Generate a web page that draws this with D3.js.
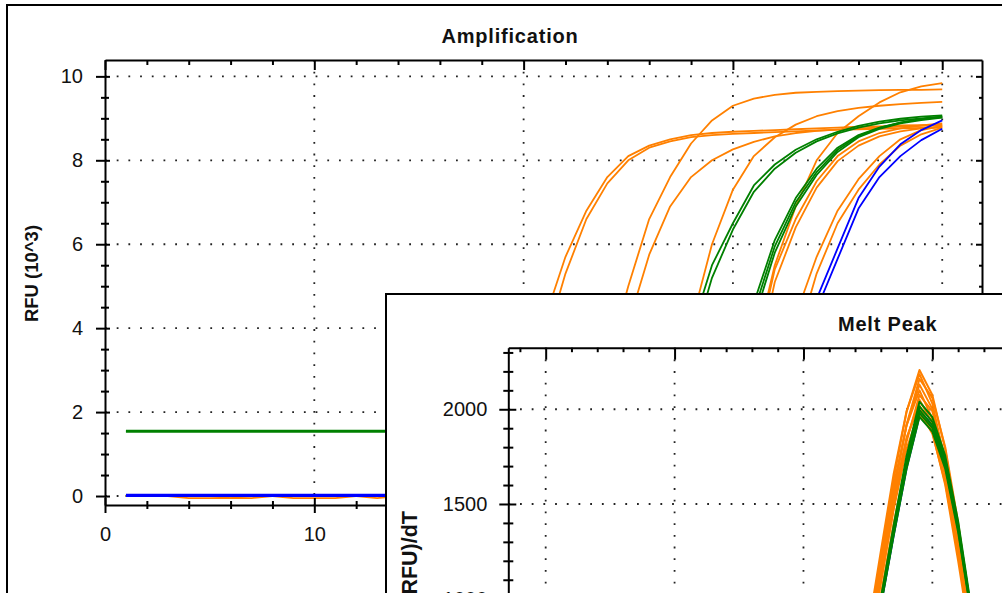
<!DOCTYPE html>
<html>
<head>
<meta charset="utf-8">
<script src="https://cdn.jsdelivr.net/npm/d3@7"></script>
<style>
  html, body { margin: 0; padding: 0; background: #fff; }
  svg { display: block; font-family: "Liberation Sans", Arial, sans-serif; }
</style>
</head>
<body>
<svg id="chart" width="1002" height="593"></svg>
<script>
// ---------- Amplification data (RFU x 10^3 per cycle) ----------
const cycles = [1,2,3,4,5,6,7,8,9,10,11,12,13,14,15,16,17,18,19,20,21,22,23,24,25,26,27,28,29,30,31,32,33,34,35,36,37,38,39,40];
const ampXTicks = [0, 10, 20, 30, 40];
const ampYTicks = [0, 2, 4, 6, 8, 10];

const ampOrangeA1 = [0,0,0,-0.05,-0.05,-0.05,0,0,-0.05,-0.05, -0.05,0,0,0,0,0,0.1,0.3,0.9,2.2, 4.2,5.7,6.8,7.6,8.1,8.35,8.5,8.6,8.65,8.68, 8.7,8.72,8.74,8.76,8.78,8.8,8.81,8.83,8.84,8.85];
const ampOrangeA2 = [0,0,0,0,0,-0.05,-0.05,0,0,0, 0,0,-0.05,0,0,0,0.05,0.2,0.7,1.8, 3.6,5.3,6.6,7.45,8.0,8.3,8.45,8.55,8.6,8.63, 8.65,8.67,8.69,8.71,8.73,8.74,8.75,8.76,8.77,8.78];
const ampOrangeB  = [0,0,0,0,0,0,0,0,0,0, 0,0,0,0,0,0,0,0,0,0.05, 0.2,0.6,1.5,3.2,5.0,6.6,7.6,8.4,8.95,9.3, 9.47,9.56,9.61,9.63,9.65,9.66,9.67,9.68,9.68,9.69];
const ampOrangeC  = [0,0,0,0,0,0,0,0,0,0, 0,0,0,0,0,0,0,0,0,0.03, 0.1,0.4,1.1,2.4,4.1,5.75,6.9,7.6,8.0,8.26, 8.44,8.57,8.65,8.7,8.73,8.76,8.78,8.8,8.82,8.83];
const ampOrangeD  = [0,0,0,0,0,0,0,0,0,0, 0,0,0,0,0,0,0,0,0,0, 0,0,0,0.05,0.1,0.4,1.4,4.1,6.0,7.3, 8.1,8.55,8.85,9.05,9.17,9.25,9.3,9.34,9.37,9.39];
const ampOrangeE1 = [0,0,0,0,0,0,0,0,0,0, 0,0,0,0,0,0,0,0,0,0, 0,0,0,0,0,0,0.05,0.1,0.3,1.0, 3.2,5.4,6.6,7.5,8.1,8.45,8.65,8.76,8.83,8.88];
const ampOrangeE2 = [0,0,0,0,0,0,0,0,0,0, 0,0,0,0,0,0,0,0,0,0, 0,0,0,0,0,0,0.03,0.08,0.25,0.85, 2.8,5.1,6.4,7.35,7.98,8.35,8.57,8.69,8.76,8.8];
const ampOrangeE3 = [0,0,0,0,0,0,0,0,0,0, 0,0,0,0,0,0,0,0,0,0, 0,0,0,0,0,0,0.05,0.15,0.4,1.3, 3.4,5.5,6.9,8.0,8.65,9.05,9.38,9.62,9.76,9.84];
const ampOrangeF  = [0,0,0,0,0,0,0,0,0,0, 0,0,0,0,0,0,0,0,0,0, 0,0,0,0,0,0,0,0,0.1,0.3, 0.9,2.2,4.3,5.7,6.8,7.55,8.1,8.5,8.72,8.82];
const ampOrangeG  = [0,0,0,0,0,0,0,0,0,0, 0,0,0,0,0,0,0,0,0,0, 0,0,0,0,0,0,0,0,0.06,0.2, 0.6,1.6,3.6,5.3,6.5,7.3,7.9,8.35,8.62,8.78];

const ampGreen1   = [0,0,0,0,0,0,0,0,0,0, 0,0,0,0,0,0,0,0,0,0, 0,0,0.05,0.1,0.3,0.8,1.9,3.9,5.5,6.5, 7.4,7.9,8.25,8.5,8.68,8.82,8.92,8.99,9.04,9.07];
const ampGreen2   = [0,0,0,0,0,0,0,0,0,0, 0,0,0,0,0,0,0,0,0,0, 0,0,0.03,0.1,0.25,0.7,1.7,3.5,5.2,6.35, 7.25,7.8,8.18,8.45,8.64,8.78,8.88,8.95,9.0,9.04];
const ampGreen3   = [0,0,0,0,0,0,0,0,0,0, 0,0,0,0,0,0,0,0,0,0, 0,0,0,0,0,0.05,0.1,0.4,1.0,2.6, 4.6,6.1,7.1,7.8,8.3,8.6,8.78,8.9,8.98,9.03];
const ampGreen4   = [0,0,0,0,0,0,0,0,0,0, 0,0,0,0,0,0,0,0,0,0, 0,0,0,0,0,0.04,0.1,0.35,0.9,2.4, 4.4,5.95,7.0,7.72,8.25,8.58,8.77,8.9,8.98,9.04];
const ampGreen5   = [0,0,0,0,0,0,0,0,0,0, 0,0,0,0,0,0,0,0,0,0, 0,0,0,0,0,0.03,0.08,0.3,0.8,2.2, 4.2,5.8,6.9,7.65,8.2,8.55,8.75,8.88,8.96,9.02];
const ampGreenFlat1 = [1.56,1.56,1.56,1.56,1.56,1.56,1.56,1.56,1.56,1.56, 1.56,1.56,1.56,1.56,1.56,1.56,1.56,1.56,1.56,1.56, 1.56,1.56,1.56,1.56,1.56,1.56,1.56,1.56,1.56,1.56, 1.56,1.56,1.56,1.56,1.56,1.56,1.56,1.56,1.56,1.56];
const ampGreenFlat2 = [1.53,1.53,1.53,1.53,1.53,1.53,1.53,1.53,1.53,1.53, 1.53,1.53,1.53,1.53,1.53,1.53,1.53,1.53,1.53,1.53, 1.53,1.53,1.53,1.53,1.53,1.53,1.53,1.53,1.53,1.53, 1.53,1.53,1.53,1.53,1.53,1.53,1.53,1.53,1.53,1.53];

const ampBlue1    = [0.03,0.03,0.03,0.03,0.03,0.03,0.03,0.03,0.03,0.03, 0.03,0.03,0.03,0.03,0.03,0.03,0.03,0.03,0.03,0.03, 0.03,0.03,0.03,0.03,0.03,0.03,0.03,0.08,0.2,0.45, 1.0,2.0,3.4,4.7,5.9,7.1,7.85,8.38,8.72,8.95];
const ampBlue2    = [0,0,0,0,0,0,0,0,0,0, 0,0,0,0,0,0,0,0,0,0, 0,0,0,0,0,0,0,0.06,0.15,0.4, 0.9,1.8,3.1,4.45,5.65,6.85,7.6,8.1,8.48,8.75];

// ---------- Melt peak data (-d(RFU)/dT per temperature step) ----------
const meltTemps = [75.0,75.5,76.0,76.5,77.0,77.5,78.0,78.5,79.0,79.5,80.0,80.5,81.0,81.5,82.0,82.5,83.0,83.5,84.0];
const meltXGrid = [65, 70, 75, 80];
const meltYTicks = [1000, 1500, 2000];

const meltOrange1  = [44,66,110,221,441,795,1214,1633,1986,2207,2075,1788,1368,883,463,221,110,66,44];
const meltOrange2  = [44,66,115,235,470,830,1250,1660,1990,2185,2030,1720,1300,830,430,205,100,60,40];
const meltOrange3  = [40,60,100,200,400,740,1140,1560,1920,2160,2060,1800,1400,930,500,235,115,65,43];
const meltOrange4  = [42,64,106,213,425,767,1171,1576,1916,2130,2002,1725,1320,852,447,213,106,64,42];
const meltOrange5  = [43,65,112,226,452,800,1200,1600,1915,2100,1950,1650,1240,790,410,195,98,59,39];
const meltOrange6  = [38,57,95,190,380,700,1080,1480,1830,2075,1990,1740,1350,900,480,225,110,62,41];
const meltOrange7  = [41,62,103,205,410,738,1128,1517,1845,2050,1927,1661,1271,820,431,205,103,62,41];
const meltOrange8  = [41,62,107,216,432,760,1150,1540,1850,2020,1880,1600,1200,770,400,190,95,57,38];
const meltOrange9  = [40,60,100,199,398,716,1095,1473,1791,1990,1871,1612,1234,796,418,199,100,60,40];
const meltOrange10 = [36,54,90,180,360,660,1020,1400,1730,1965,1890,1650,1280,850,450,210,100,58,38];

const meltGreen1 = [41,61,92,173,347,632,1000,1387,1754,2040,1958,1754,1408,959,530,245,122,71,41];
const meltGreen2 = [40,60,91,171,343,625,987,1370,1733,2015,1934,1733,1390,947,524,242,121,71,40];
const meltGreen3 = [40,60,90,170,339,618,978,1357,1716,1995,1915,1716,1377,938,519,239,120,70,40];
const meltGreen4 = [40,59,89,168,337,614,970,1346,1703,1980,1901,1703,1366,931,515,238,119,69,40];
const meltGreen5 = [39,59,88,167,333,608,960,1333,1686,1960,1882,1686,1352,921,510,235,118,69,39];

const meltBlue1 = [40,60,90,170,339,619,978,1357,1717,1996,1916,1717,1377,938,519,240,120,70,40];
const meltBlue2 = [39,59,88,167,334,609,963,1336,1690,1965,1886,1690,1356,924,511,236,118,69,39];

// ---------- series groups ----------
const ORANGE = "#ff8000", GREEN = "#008000", BLUE = "#0000ff";
const ampSeries = [
  ...[ampOrangeA1, ampOrangeA2, ampOrangeB, ampOrangeC, ampOrangeD, ampOrangeE1, ampOrangeE2, ampOrangeE3, ampOrangeF, ampOrangeG].map(v => ({ v, c: ORANGE })),
  ...[ampGreenFlat1, ampGreenFlat2, ampGreen1, ampGreen2, ampGreen3, ampGreen4, ampGreen5].map(v => ({ v, c: GREEN })),
  ...[ampBlue1, ampBlue2].map(v => ({ v, c: BLUE }))
];
const meltSeries = [
  ...[meltBlue1, meltBlue2].map(v => ({ v, c: BLUE })),
  ...[meltOrange1, meltOrange2, meltOrange3, meltOrange4, meltOrange5, meltOrange6, meltOrange7, meltOrange8, meltOrange9, meltOrange10].map(v => ({ v, c: ORANGE })),
  ...[meltGreen1, meltGreen2, meltGreen3, meltGreen4, meltGreen5].map(v => ({ v, c: GREEN }))
];

const svg = d3.select("#chart");
const FONT = '"Liberation Sans", Arial, sans-serif';
const TXT = "#111";

// outer window frame
svg.append("rect")
  .attr("x", 7).attr("y", 5).attr("width", 1010).attr("height", 620)
  .attr("fill", "#fff").attr("stroke", "#000").attr("stroke-width", 2);

// axis helper: ticks in one direction; labels optional
function axisLayer(parent, gen, scale, values, size, labelPad, fmt) {
  const ax = gen(scale).tickValues(values).tickSize(size).tickSizeOuter(0);
  if (labelPad != null) ax.tickFormat(fmt).tickPadding(labelPad); else ax.tickFormat("");
  const g = parent.append("g").call(ax);
  g.attr("font-family", FONT).attr("font-size", 20);
  g.selectAll(".tick line").attr("stroke", "#000").attr("stroke-width", 2);
  g.selectAll(".tick text").attr("fill", TXT);
  return g;
}
function minorValues(lo, hi, step, majors) {
  const out = [];
  for (let k = Math.round(lo / step); k * step <= hi + 1e-9; k++) {
    const v = +(k * step).toFixed(6);
    if (!majors.some(m => Math.abs(m - v) < 1e-9)) out.push(v);
  }
  return out;
}

// =================== Amplification panel ===================
const ampX = d3.scaleLinear().domain([0, 41.9]).range([105, 982]);
const ampY = d3.scaleLinear().domain([-0.214, 10.39]).range([505, 60]);
const amp = svg.append("g");

amp.append("clipPath").attr("id", "ampClip")
  .append("rect").attr("x", 105).attr("y", 60).attr("width", 877).attr("height", 445);

// dotted grid
const ampGrid = amp.append("g").attr("stroke", "#222").attr("stroke-width", 1.8).attr("stroke-dasharray", "1.8 9.9");
ampGrid.selectAll("line.v").data(ampXTicks.filter(d => d > 0)).join("line")
  .attr("x1", d => ampX(d)).attr("x2", d => ampX(d)).attr("y1", 60).attr("y2", 505);
ampGrid.selectAll("line.h").data(ampYTicks).join("line")
  .attr("y1", d => ampY(d)).attr("y2", d => ampY(d)).attr("x1", 105).attr("x2", 982);

// amplification curves
const ampLine = d3.line().x((d, i) => ampX(cycles[i])).y(d => ampY(d));
amp.append("g").attr("clip-path", "url(#ampClip)")
  .selectAll("path").data(ampSeries).join("path")
  .attr("d", d => ampLine(d.v)).attr("fill", "none")
  .attr("stroke", d => d.c).attr("stroke-width", 1.8).attr("stroke-linejoin", "round");

// axes
const ampYMinor = minorValues(0, 10, 0.5, ampYTicks);
const ampXMinor = minorValues(0, 40, 2, ampXTicks);
const ampLeftAxis = axisLayer(amp.append("g").attr("transform", "translate(105,0)"), d3.axisLeft, ampY, ampYTicks, 9, 13, d3.format("d"));
ampLeftAxis.select(".domain").attr("stroke", "#000").attr("stroke-width", 2);
axisLayer(amp.append("g").attr("transform", "translate(105,0)"), d3.axisLeft, ampY, ampYTicks, -5).select(".domain").remove();
axisLayer(amp.append("g").attr("transform", "translate(105,0)"), d3.axisLeft, ampY, ampYMinor, 4).select(".domain").remove();
axisLayer(amp.append("g").attr("transform", "translate(105,0)"), d3.axisLeft, ampY, ampYMinor, -4).select(".domain").remove();

const ampBottomAxis = axisLayer(amp.append("g").attr("transform", "translate(0,505)"), d3.axisBottom, ampX, ampXTicks, 8, 14, d3.format("d"));
ampBottomAxis.select(".domain").attr("stroke", "#000").attr("stroke-width", 2);
axisLayer(amp.append("g").attr("transform", "translate(0,505)"), d3.axisBottom, ampX, ampXTicks, -7).select(".domain").remove();
axisLayer(amp.append("g").attr("transform", "translate(0,505)"), d3.axisBottom, ampX, ampXMinor, 4).select(".domain").remove();
axisLayer(amp.append("g").attr("transform", "translate(0,505)"), d3.axisBottom, ampX, ampXMinor, -4).select(".domain").remove();

const ampTopAxis = axisLayer(amp.append("g").attr("transform", "translate(0,60)"), d3.axisTop, ampX, ampXTicks, -10);
ampTopAxis.select(".domain").attr("stroke", "#000").attr("stroke-width", 2);
axisLayer(amp.append("g").attr("transform", "translate(0,60)"), d3.axisTop, ampX, ampXMinor, -5).select(".domain").remove();

const ampRightAxis = axisLayer(amp.append("g").attr("transform", "translate(982,0)"), d3.axisRight, ampY, ampYTicks, -6);
ampRightAxis.select(".domain").attr("stroke", "#000").attr("stroke-width", 2);
axisLayer(amp.append("g").attr("transform", "translate(982,0)"), d3.axisRight, ampY, ampYMinor, -3).select(".domain").remove();

// titles
amp.append("text").attr("x", 510).attr("y", 42.5).attr("text-anchor", "middle")
  .attr("font-family", FONT).attr("font-size", 20).attr("font-weight", "bold")
  .attr("letter-spacing", "0.8px").attr("fill", TXT).text("Amplification");
amp.append("text").attr("transform", "translate(32,273.5) rotate(-90)").attr("dy", "0.35em")
  .attr("text-anchor", "middle").attr("font-family", FONT).attr("font-size", 18.5)
  .attr("font-weight", "bold").attr("fill", TXT).text("RFU (10^3)");

// =================== Melt Peak panel (inset window) ===================
const melt = svg.append("g");
melt.append("rect").attr("x", 386).attr("y", 294).attr("width", 700).attr("height", 400)
  .attr("fill", "#fff").attr("stroke", "#000").attr("stroke-width", 2);

const meltX = d3.scaleLinear().domain([63.55, 83]).range([508.3, 1009.7]);
const meltY = d3.scaleLinear().domain([1000, 2325]).range([598.7, 347.7]);

melt.append("clipPath").attr("id", "meltClip")
  .append("rect").attr("x", 508.3).attr("y", 347.7).attr("width", 600).attr("height", 300);

const meltGrid = melt.append("g").attr("stroke", "#222").attr("stroke-width", 1.8).attr("stroke-dasharray", "1.8 9.9");
meltGrid.selectAll("line.v").data(meltXGrid).join("line")
  .attr("x1", d => meltX(d)).attr("x2", d => meltX(d)).attr("y1", 347.7).attr("y2", 650);
meltGrid.selectAll("line.h").data(meltYTicks).join("line")
  .attr("y1", d => meltY(d)).attr("y2", d => meltY(d)).attr("x1", 508.3).attr("x2", 1010);

const meltLine = d3.line().x((d, i) => meltX(meltTemps[i])).y(d => meltY(d));
melt.append("g").attr("clip-path", "url(#meltClip)")
  .selectAll("path").data(meltSeries).join("path")
  .attr("d", d => meltLine(d.v)).attr("fill", "none")
  .attr("stroke", d => d.c).attr("stroke-width", 2).attr("stroke-linejoin", "round");

const meltYMinor = minorValues(1000, 2300, 100, meltYTicks);
const meltXMinor = minorValues(64, 82, 1, meltXGrid);
const meltLeftAxis = axisLayer(melt.append("g").attr("transform", "translate(508.3,0)"), d3.axisLeft, meltY, meltYTicks, 9, 12, d3.format("d"));
meltLeftAxis.select(".domain").attr("stroke", "#000").attr("stroke-width", 2);
axisLayer(melt.append("g").attr("transform", "translate(508.3,0)"), d3.axisLeft, meltY, meltYTicks, -8).select(".domain").remove();
axisLayer(melt.append("g").attr("transform", "translate(508.3,0)"), d3.axisLeft, meltY, meltYMinor, 5).select(".domain").remove();
axisLayer(melt.append("g").attr("transform", "translate(508.3,0)"), d3.axisLeft, meltY, meltYMinor, -5).select(".domain").remove();

const meltTopAxis = axisLayer(melt.append("g").attr("transform", "translate(0,347.7)"), d3.axisTop, meltX, meltXGrid, -12);
meltTopAxis.select(".domain").attr("stroke", "#000").attr("stroke-width", 2);
axisLayer(melt.append("g").attr("transform", "translate(0,347.7)"), d3.axisTop, meltX, meltXMinor, -4.5).select(".domain").remove();

melt.append("text").attr("x", 887.7).attr("y", 330.7).attr("text-anchor", "middle")
  .attr("font-family", FONT).attr("font-size", 20).attr("font-weight", "bold")
  .attr("letter-spacing", "0.8px").attr("fill", TXT).text("Melt Peak");
melt.append("text").attr("transform", "translate(409,511) rotate(-90)").attr("dy", "0.35em")
  .attr("text-anchor", "end").attr("font-family", FONT).attr("font-size", 21.5)
  .attr("font-weight", "bold").attr("fill", TXT).text("-d(RFU)/dT");
</script>
</body>
</html>
